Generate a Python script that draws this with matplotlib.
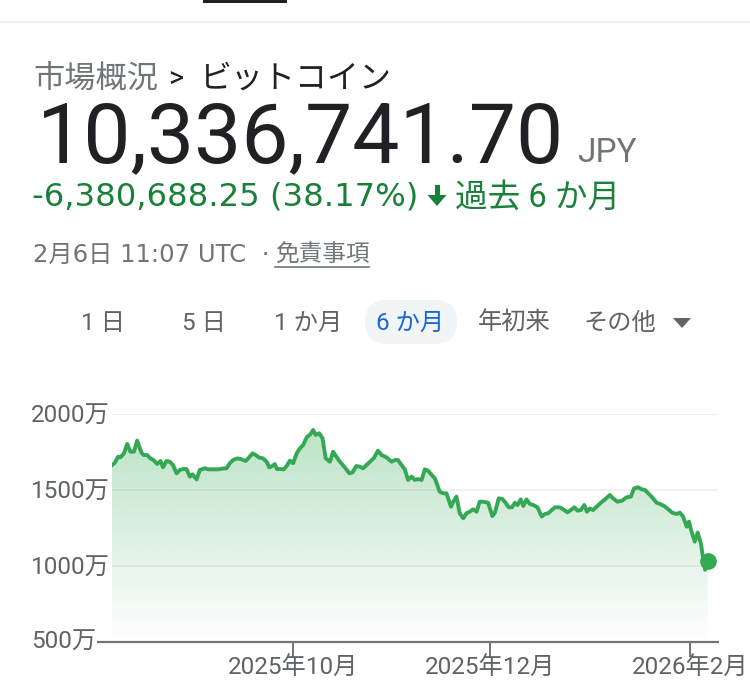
import numpy as np
import pandas as pd
import matplotlib
matplotlib.use("Agg")
import matplotlib.pyplot as plt
import matplotlib.dates as mdates
from matplotlib.patches import Rectangle, Polygon, FancyBboxPatch
from matplotlib.transforms import ScaledTranslation

plt.rcParams["font.family"] = ["Roboto", "Noto Sans CJK JP", "DejaVu Sans"]
WIDE = ["DejaVu Sans", "Noto Sans CJK JP"]

# ---- data (price in 万 JPY, days after 2025-08-06) ----------------------------
START = "2025-08-06"
days = [0.0, 0.9, 1.9, 2.6, 3.7, 4.7, 5.7, 6.8, 7.8, 9.1, 9.8, 10.9, 11.9, 12.9, 14.0,
        15.0, 15.8, 16.9, 17.9, 18.9, 20.0, 21.0, 22.0, 23.1, 24.1, 24.9, 26.2, 27.2,
        28.8, 29.8, 31.3, 32.9, 33.9, 35.5, 36.5, 37.5, 38.8, 39.8, 41.4, 42.5, 43.5,
        44.5, 45.6, 46.8, 47.9, 48.7, 49.7, 50.4, 51.1, 52.2, 53.2, 54.1, 55.1, 56.1,
        57.2, 58.2, 59.2, 60.3, 61.5, 62.3, 63.1, 64.2, 65.2, 66.2, 67.5, 68.5, 69.5,
        70.6, 72.1, 73.5, 74.5, 75.7, 76.8, 77.8, 78.8, 79.9, 81.1,
        82.4, 83.5, 85.0, 86.6, 87.6, 88.6, 89.7, 90.7, 91.7, 92.8, 93.8, 94.8, 95.9,
        96.9, 97.9, 99.0, 100.0, 101.5, 102.6, 103.6, 105.0, 105.7, 106.7, 107.7, 108.8,
        109.8, 110.8, 111.9, 112.9, 113.9, 115.0, 116.5, 117.8, 118.6, 119.8, 120.9,
        121.9, 122.9, 123.9, 124.8, 125.6, 126.6, 127.4, 128.4, 129.4, 130.5, 131.8,
        133.1, 134.1, 135.1, 136.2, 137.2, 138.7, 139.7, 141.1, 142.1, 143.2, 144.2,
        145.2, 146.3, 147.1, 148.0, 149.0, 150.1, 151.4, 152.7, 154.2, 155.2, 156.6,
        158.0, 159.4, 160.7, 161.7, 163.0, 164.0, 165.1, 166.1, 167.3, 168.7, 169.7,
        171.0, 172.3, 173.5, 174.9, 175.9, 176.9, 178.0, 178.7, 179.5, 180.5, 181.4,
        182.4, 183.1, 183.7, 184.5]
price = [1664, 1680, 1719, 1715, 1741, 1803, 1752, 1752, 1825, 1746, 1730, 1730, 1708,
         1697, 1671, 1691, 1649, 1691, 1686, 1664, 1610, 1632, 1638, 1638, 1588, 1603,
         1570, 1632, 1643, 1636, 1636, 1636, 1640, 1643, 1676, 1697, 1708, 1704, 1691,
         1715, 1741, 1730, 1713, 1708, 1686, 1649, 1658, 1671, 1638, 1638, 1636, 1658,
         1693, 1676, 1741, 1774, 1796, 1846, 1868, 1895, 1862, 1873, 1840, 1708, 1686,
         1752, 1719, 1686, 1649, 1610, 1616, 1658, 1653, 1643, 1664, 1686, 1710,
         1759, 1730, 1715, 1686, 1697, 1697, 1664, 1636, 1566, 1588, 1566, 1572, 1566,
         1636, 1627, 1599, 1577, 1489, 1478, 1478, 1390, 1423, 1456, 1347, 1314, 1347,
         1357, 1373, 1357, 1423, 1423, 1416, 1329, 1351, 1445, 1441, 1416, 1386, 1386,
         1416, 1401, 1438, 1395, 1438, 1408, 1401, 1386, 1325, 1342, 1347, 1368, 1386,
         1386, 1373, 1353, 1368, 1386, 1364, 1368, 1401, 1357, 1379, 1368, 1390, 1416,
         1438, 1467, 1445, 1423, 1430, 1452, 1456, 1511, 1518, 1505, 1500, 1478, 1452,
         1416, 1408, 1395, 1373, 1351, 1342, 1351, 1325, 1259, 1292, 1226, 1160, 1220,
         1149, 1051, 975, 1033.7]
assert len(days) == len(price)

y_ticks = [500, 1000, 1500, 2000]
y_labels = ["500万", "1000万", "1500万", "2000万"]
x_ticks = ["2025-10-01", "2025-12-01", "2026-02-01"]
x_labels = ["2025年10月", "2025年12月", "2026年2月"]
x_end_days = 187.7

ranges = ["1 日", "5 日", "1 か月", "6 か月", "年初来", "その他"]
range_x = [103, 204, 308, 410, 514, 620]
ACTIVE = 3

GREEN = "#34a853"
TXT = "#202124"
GRAY = "#70757a"
TICK = "#5f6368"
DOWN = "#188038"

dates = pd.Timestamp(START) + pd.to_timedelta(days, unit="D")
price = np.array(price, dtype=float)

fig = plt.figure(figsize=(7.5, 7.0), dpi=100)

# ---- page header (pixel coordinates overlay) --------------------------------
ui = fig.add_axes([0, 0, 1, 1])
ui.set_xlim(0, 750); ui.set_ylim(700, 0); ui.axis("off")
ui.add_patch(Rectangle((203, 0), 84, 3, color=TXT, lw=0))
ui.plot([0, 750], [21.5, 21.5], color="#ebebeb", lw=1.2)

ui.text(33, 88, "市場概況", fontsize=22.5, color=GRAY, va="baseline")
ui.text(168, 88, ">", fontsize=21, color=TXT, va="baseline")
ui.text(199, 88, "ビットコイン", fontsize=23, color=TXT, va="baseline")

ui.text(37, 162, "10,336,741.70", fontsize=60.5, color=TXT, va="baseline")
ui.text(577, 162, "JPY", fontsize=24, color=GRAY, va="baseline")

ui.text(32, 206, "-6,380,688.25 (38.17%)", fontsize=23.2, color=DOWN, va="baseline",
        family=WIDE)
ui.add_patch(Rectangle((435, 185), 4.5, 13, color=DOWN, lw=0))
ui.add_patch(Polygon([(427.5, 195), (446.5, 195), (437, 206)], closed=True, color=DOWN, lw=0))
ui.text(455, 207, "過去 6 か月", fontsize=23.5, color=DOWN, va="baseline")

ui.text(33, 262, "2月6日 11:07 UTC  ·", fontsize=17.5, color=GRAY, va="baseline", family=WIDE)
ui.text(275, 262, "免責事項", fontsize=17, color=GRAY, va="baseline")
ui.plot([275, 369], [266.5, 266.5], color=GRAY, lw=1.2)

ui.add_patch(FancyBboxPatch((365, 300), 92, 44, boxstyle="round,pad=0,rounding_size=22",
                            fc="#f2f5f7", ec="none"))
for i, (lab, xp) in enumerate(zip(ranges, range_x)):
    ui.text(xp, 323, lab, fontsize=17.5, ha="center", va="center",
            color="#1967d2" if i == ACTIVE else "#5f6368")
ui.add_patch(Polygon([(673, 318), (691, 318), (682, 328)], closed=True, color="#5f6368", lw=0))

# ---- chart -------------------------------------------------------------------
ax = fig.add_axes([112 / 750, 1 - 642 / 700, 606 / 750, 228 / 700])
ax.set_facecolor("none")
x0 = pd.Timestamp(START)
x1 = x0 + pd.Timedelta(days=x_end_days)

for yv in y_ticks[1:]:
    ax.axhline(yv, color="#f0f0f0", lw=1.3, zorder=0)

# gradient area under the line
poly = ax.fill_between(dates, price, 500, facecolor="none", edgecolor="none")
grad = np.zeros((256, 1, 4))
grad[..., 0:3] = matplotlib.colors.to_rgb(GREEN)
grad[:, 0, 3] = np.linspace(0.0, 0.33, 256)
im = ax.imshow(grad, extent=[mdates.date2num(dates[0]), mdates.date2num(dates[-1]), 500, 1900],
               origin="lower", aspect="auto", zorder=1, interpolation="bilinear")
im.set_clip_path(poly.get_paths()[0], ax.transData)
ax.set_xlim(x0, x1)
ax.set_ylim(500, 2000)

ax.plot(dates, price, color=GREEN, lw=2.8, solid_joinstyle="round", zorder=3)
ax.plot(dates[-1:], price[-1:], "o", color=GREEN, ms=11, zorder=4, clip_on=False)

# baseline at 500 extends a bit left of the plot
ax.plot([-0.023, 1], [500, 500], transform=ax.get_yaxis_transform(), color="#70757a",
        lw=1.6, clip_on=False, zorder=2)

for s in ax.spines.values():
    s.set_visible(False)
ax.set_yticks(y_ticks[1:])
ax.set_yticklabels(y_labels[1:])
ax.tick_params(axis="y", length=0, pad=1.5, labelsize=17.5, labelcolor=TICK)
off = ScaledTranslation(-16 / 100, 0, fig.dpi_scale_trans)
ax.text(0, y_ticks[0], y_labels[0], transform=ax.get_yaxis_transform() + off,
        ha="right", va="center", fontsize=17.5, color=TICK)

ax.set_xticks(pd.to_datetime(x_ticks))
ax.set_xticklabels(x_labels)
ax.tick_params(axis="x", direction="out", length=11, width=1.4, color="#70757a",
               pad=0, labelsize=17.5, labelcolor=TICK)

fig.savefig("out.png", dpi=100)
